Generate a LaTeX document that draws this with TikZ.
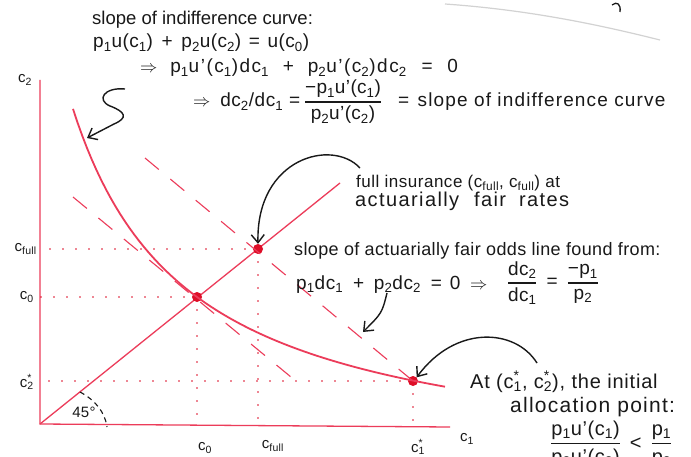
\documentclass[tikz,border=0pt]{standalone}
\usepackage{fontspec}
\usepackage{amsmath}
\setmainfont{Liberation Sans}
\usetikzlibrary{arrows.meta}
\definecolor{lnred}{RGB}{236,60,90}
\definecolor{dotred}{RGB}{222,14,40}
\definecolor{ink}{RGB}{25,25,25}
\newcommand\sbs[1]{\textsubscript{#1}}
\newcommand\cst[1]{c\rlap{\textsuperscript{*}}\textsubscript{#1}}
\newcommand\hs[2]{\fontsize{#1}{#1}\selectfont\addfontfeature{LetterSpace=#2}}
\newcommand\gap[1]{\hspace{#1pt}}
\newcommand\hfr[2]{\genfrac{}{}{1.2pt}{0}{\mbox{#1}}{\mbox{#2}}}
\begin{document}
\begin{tikzpicture}[x=1pt,y=-1pt,
  hand/.style={text=ink, inner sep=0pt, anchor=base west},
  lbl/.style={font={\hs{15}{2}}, text=ink, inner sep=0pt},
  ax/.style={lnred, line width=1.3pt},
  icurve/.style={lnred, line width=1.8pt},
  fair/.style={lnred, line width=1.1pt, dash pattern=on 18pt off 15pt},
  dotl/.style={dotred, line width=1.6pt, line cap=round, dash pattern=on 0pt off 13pt},
  dot/.style={circle, fill=dotred, inner sep=0pt, minimum size=10pt},
  note/.style={-{Straight Barb[length=8pt,width=13pt]}, line width=1.4pt, ink}]
\useasboundingbox (0,0) rectangle (691,457);
\fill[white] (0,0) rectangle (691,457);

% faint stroke from another page, top right
\draw[gray!35, line width=1.2pt] (445,4) .. controls (530,10) and (600,25) .. (660,40);
\draw[ink, line width=1.3pt] (612,5) .. controls (617,1) and (621,4) .. (620,12);

% axes
\coordinate (O) at (40,424);
\coordinate (ytop) at (40,80);
\coordinate (xend) at (450,427);
\draw[ax] (ytop) -- (O) -- (xend);
\node[lbl] (lc2) at (25,80) {c\sbs{2}};
\node[lbl] (lc1) at (467,439) {c\sbs{1}};

% 45 degree line
\coordinate (d1) at (340,183);
\draw[ax] (O) -- (d1);
\draw[ink, line width=1.1pt, dash pattern=on 5pt off 4pt] (80,392) .. controls (95,400) and (105,412) .. (107,427);
\node[lbl] (l45) at (84,412) {45°};

% points
\node[dot] (A) at (197,297) {};
\node[dot] (F) at (258,249) {};
\node[dot] (S) at (413,381) {};

% dotted guides
\draw[dotl] (F.center) -- (F.center -| O);
\draw[dotl] (A.center) -- (A.center -| O);
\draw[dotl] (S.center) -- (S.center -| O);
\draw[dotl] (A.center) -- (A.center |- O);
\draw[dotl] (F.center) -- (F.center |- O);
\draw[dotl] (S.center) -- (S.center |- O);

% fair odds lines
\coordinate (f1) at (145,158);
\coordinate (f2) at (73,197);
\coordinate (f2e) at (297,382);
\draw[fair] (f1) -- (S.center);
\draw[fair] (f2) -- (f2e);

% indifference curve
\draw[icurve] plot[domain=73:445, samples=80] (\x, {473.7 - 4250/((\x+43.5)/10)});

% axis labels
\node[lbl, anchor=east] (lcf) at (37,249) {c\sbs{full}};
\node[lbl, anchor=east] (lc0) at (34,297) {c\sbs{0}};
\node[lbl, anchor=east] (lc2s) at (34,382) {\cst{2}};
\node[lbl] (bc0) at (205,448) {c\sbs{0}};
\node[lbl] (bcf) at (273,446) {c\sbs{full}};
\node[lbl] (bc1s) at (418,447) {\cst{1}};

% texts
\node[hand, font={\hs{18.5}{0}}] (t1) at (92,25) {slope of indifference curve:};
\node[hand, font={\hs{19}{2}}] (t2) at (93,48) {p\sbs{1}u(c\sbs{1}) \gap{3}+\gap{3} p\sbs{2}u(c\sbs{2}) \gap{2}=\gap{2} u(c\sbs{0})};
\node[hand, font={\hs{19}{8}}] (t3) at (140,73) {$\Rightarrow$ \gap{6}p\sbs{1}u'(c\sbs{1})dc\sbs{1} \gap{7}+\gap{7} p\sbs{2}u'(c\sbs{2})dc\sbs{2} \gap{8}=\gap{8} 0};
\node[hand, font={\hs{19}{3}}] (t4a) at (193,107) {$\Rightarrow$ \gap{4}dc\sbs{2}/dc\sbs{1} =};
\node[font={\hs{19}{2}}, text=ink, inner sep=0pt] (t4b) at (343,102) {$\hfr{−p\sbs{1}u'(c\sbs{1})}{p\sbs{2}u'(c\sbs{2})}$};
\node[hand, font={\hs{19}{6}}] (t4c) at (398,107) {= \gap{2}slope of indifference curve};
\node[hand, font={\hs{17}{3}}] (t5) at (356,188) {full insurance (c\sbs{full}, c\sbs{full}) at};
\node[hand, font={\hs{20}{7}}] (t6) at (355,207) {actuarially \gap{8}fair \gap{6}rates};
\node[hand, font={\hs{18}{2}}] (t7) at (294,255) {slope of actuarially fair odds line found from:};
\node[hand, font={\hs{19}{3}}] (t8a) at (296,289) {p\sbs{1}dc\sbs{1} \gap{4}+\gap{4} p\sbs{2}dc\sbs{2} \gap{4}=\gap{2} 0 \gap{4}$\Rightarrow$};
\node[font={\hs{19}{2}}, text=ink, inner sep=0pt] (t8b) at (553,283) {$\hfr{dc\sbs{2}}{dc\sbs{1}}\mbox{\gap{9}=\gap{9}}\hfr{−p\sbs{1}}{p\sbs{2}}$};
\node[hand, font={\hs{20}{4}}] (t9) at (470,388) {At (\cst{1}, \cst{2}), the initial};
\node[hand, font={\hs{21}{6}}] (t10) at (510,412) {allocation point:};
\node[font={\hs{20}{3}}, text=ink, inner sep=0pt, anchor=west] (t11) at (550,444) {$\hfr{p\sbs{1}u'(c\sbs{1})}{p\sbs{2}u'(c\sbs{2})}\mbox{\gap{9}<\gap{9}}\hfr{p\sbs{1}}{p\sbs{2}}$};

% annotation arrows
\coordinate (a1s) at (125,89);
\coordinate (a1t) at (87,138);
\draw[note] (a1s) .. controls (104,87) and (96,100) .. (110,106) .. controls (126,112) and (128,118) .. (114,124) -- (a1t);
\coordinate (a2s) at (360,168);
\draw[note] (a2s) .. controls (332,138) and (256,158) .. (F.north);
\coordinate (a3s) at (387,293);
\coordinate (a3t) at (363,332);
\draw[note] (a3s) .. controls (382,313) .. (a3t);
\coordinate (a4s) at (537,363);
\draw[note] (a4s) .. controls (515,328) and (455,325) .. (S.north east);
\end{tikzpicture}
\end{document}
